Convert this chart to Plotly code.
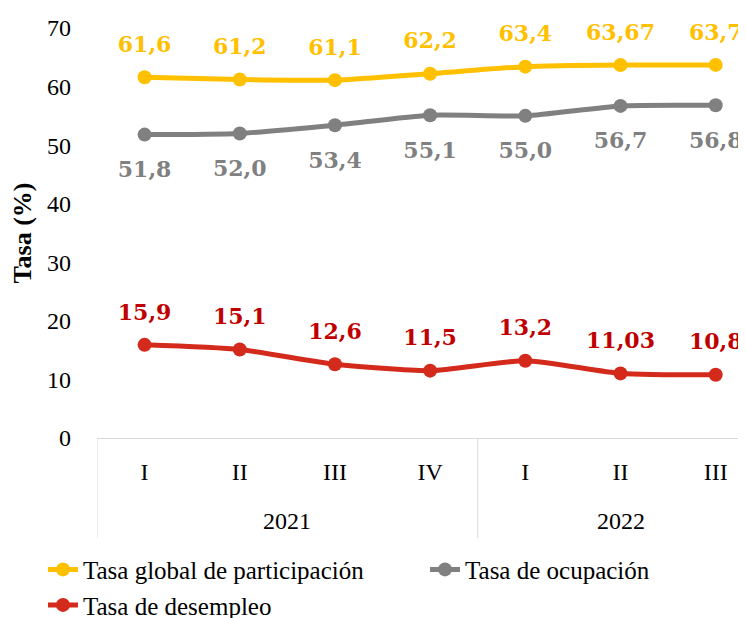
import plotly.graph_objects as go

years = ["2021", "2021", "2021", "2021", "2022", "2022", "2022"]
quarters = ["I", "II", "III", "IV", "I", "II", "III"]

tgp = [61.6, 61.2, 61.1, 62.2, 63.4, 63.67, 63.7]
tgp_lbl = ["61,6", "61,2", "61,1", "62,2", "63,4", "63,67", "63,7"]
to = [51.8, 52.0, 53.4, 55.1, 55.0, 56.7, 56.8]
to_lbl = ["51,8", "52,0", "53,4", "55,1", "55,0", "56,7", "56,8"]
td = [15.9, 15.1, 12.6, 11.5, 13.2, 11.03, 10.8]
td_lbl = ["15,9", "15,1", "12,6", "11,5", "13,2", "11,03", "10,8"]

names = ["Tasa global de participación", "Tasa de ocupación", "Tasa de desempleo"]
legend_pad = ["\u00a0" * 9, "", ""]
line_colors = ["#FFC000", "#808080", "#D42A1C"]
text_colors = ["#FFC000", "#808080", "#C00000"]
positions = ["top center", "bottom center", "top center"]
pad_sizes = [30, 40, 30]

SERIF = "Liberation Serif"
LBLFONT = "DejaVu Serif"
keys = [f"{y} {q}" for y, q in zip(years, quarters)]

fig = go.Figure()
for vals, lbls, name, lp, lc, tc, pos, ps in zip([tgp, to, td], [tgp_lbl, to_lbl, td_lbl],
                                                 names, legend_pad, line_colors, text_colors,
                                                 positions, pad_sizes):
    fig.add_trace(go.Scatter(
        x=keys, y=vals, name=name + lp, mode="lines+markers",
        line=dict(color=lc, width=5, shape="spline", smoothing=0.6),
        marker=dict(color=lc, size=14),
        cliponaxis=False,
    ))
    fig.add_trace(go.Scatter(
        x=keys, y=vals, mode="markers+text", text=lbls, textposition=pos,
        marker=dict(size=ps, color="rgba(0,0,0,0)"),
        textfont=dict(family=LBLFONT, size=22, color=tc, weight="bold"),
        showlegend=False, hoverinfo="skip", cliponaxis=False,
    ))

# year group labels and dividers, derived from the category arrays
groups = []
for i, y in enumerate(years):
    if not groups or groups[-1][0] != y:
        groups.append([y, i, i])
    else:
        groups[-1][2] = i

annotations = []
shapes = []
for y, s, e in groups:
    annotations.append(dict(x=(s + e) / 2, xref="x", y=-0.202, yref="paper",
                            text=y, showarrow=False, yanchor="middle",
                            font=dict(family=SERIF, size=24, color="black")))
    shapes.append(dict(type="line", xref="x", yref="paper", x0=s - 0.5, x1=s - 0.5,
                       y0=0, y1=-0.244, line=dict(color="#D9D9D9", width=1)))
shapes.append(dict(type="line", xref="x", yref="paper", x0=len(years) - 0.5,
                   x1=len(years) - 0.5, y0=0, y1=-0.244,
                   line=dict(color="#D9D9D9", width=1)))

fig.update_layout(
    width=820, height=626,
    margin=dict(l=89, r=0, t=20, b=196),
    paper_bgcolor="white", plot_bgcolor="white",
    font=dict(family=SERIF, size=24, color="black"),
    showlegend=True,
    legend=dict(orientation="h", x=-0.0739, xanchor="left", y=-0.265, yanchor="top",
                font=dict(family=SERIF, size=25, color="black"),
                itemwidth=30, tracegroupgap=0, traceorder="normal"),
    annotations=annotations,
    shapes=shapes,
    xaxis=dict(
        type="category", range=[-0.5, len(keys) + 0.18], automargin=False,
        tickmode="array", tickvals=keys, ticktext=quarters,
        showline=True, linecolor="#D9D9D9", linewidth=1,
        showgrid=False, zeroline=False,
        tickfont=dict(family=SERIF, size=24, color="black"),
        ticks="", ticklabelstandoff=12,
    ),
    yaxis=dict(
        range=[0, 70], dtick=10, tick0=0, automargin=False,
        showgrid=False, zeroline=False, showline=False,
        tickfont=dict(family=SERIF, size=24, color="black"),
        title=dict(text="<b>Tasa (%)</b>", font=dict(family=SERIF, size=26, color="black"),
                   standoff=20),
        ticks="", ticklabelstandoff=25,
    ),
)

fig.write_html("out.html")
